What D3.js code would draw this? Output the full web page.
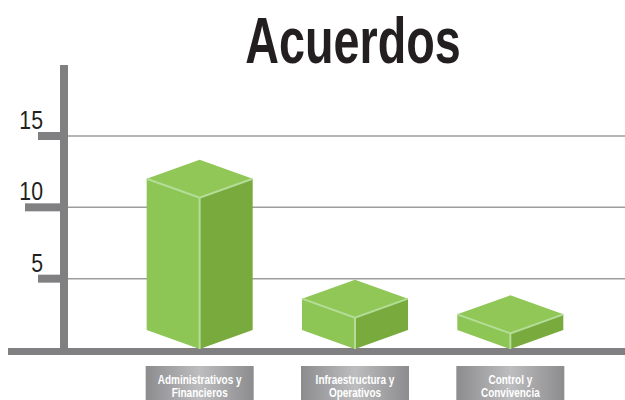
<!DOCTYPE html>
<html lang="es">
<head>
<meta charset="UTF-8">
<title>Acuerdos</title>
<script src="https://d3js.org/d3.v7.min.js"></script>
<style>
  body { margin: 0; background: #fff; }
  svg { display: block; font-family: "Liberation Sans Narrow", "Liberation Sans", Arial, sans-serif; }
</style>
</head>
<body>
<div id="chart"></div>
<script>
// data
var categories = ["Administrativos y|Financieros", "Infraestructura y|Operativos", "Control y|Convivencia"];
var values = [12, 3.6, 2.5];
var tickValues = [5, 10, 15];

var width = 625, height = 400;

var svg = d3.select("#chart").append("svg")
    .attr("width", width)
    .attr("height", height);

var y = d3.scaleLinear().domain([0, 15]).range([350, 136]);
var x = d3.scaleBand().domain(categories).range([122, 588]);

// gradient for the label boxes
var defs = svg.append("defs");
var grad = defs.append("linearGradient").attr("id", "lblGrad")
    .attr("x1", "0%").attr("x2", "100%").attr("y1", "0%").attr("y2", "0%");
grad.append("stop").attr("offset", "0%").attr("stop-color", "#8c8c8e");
grad.append("stop").attr("offset", "50%").attr("stop-color", "#bdbdbf");
grad.append("stop").attr("offset", "100%").attr("stop-color", "#8c8c8e");

// title (condensed by squeezing the glyphs)
svg.append("text")
    .attr("transform", "translate(353,63) scale(0.73,1)")
    .attr("text-anchor", "middle")
    .attr("font-size", 64)
    .attr("font-weight", "bold")
    .attr("fill", "#231f20")
    .text("Acuerdos");

// grid lines
svg.selectAll(".grid").data(tickValues).enter().append("line")
    .attr("class", "grid")
    .attr("x1", 67).attr("x2", width)
    .attr("y1", function(d) { return y(d); })
    .attr("y2", function(d) { return y(d); })
    .attr("stroke", "#9d9d9f")
    .attr("stroke-width", 1.5);

// tick marks (10 is longer)
svg.selectAll(".tick").data(tickValues).enter().append("rect")
    .attr("class", "tick")
    .attr("x", function(d) { return d === 10 ? 25 : 38; })
    .attr("y", function(d) { return y(d) - 4; })
    .attr("width", function(d) { return d === 10 ? 36 : 23; })
    .attr("height", 8)
    .attr("fill", "#808083");

svg.selectAll(".tlabel").data(tickValues).enter().append("text")
    .attr("class", "tlabel")
    .attr("transform", function(d) { return "translate(43," + (y(d) - 7) + ") scale(0.85,1)"; })
    .attr("text-anchor", "end")
    .attr("font-size", 25)
    .attr("fill", "#231f20")
    .text(function(d) { return d; });

// axis bars
svg.append("rect").attr("x", 60).attr("y", 65).attr("width", 8).attr("height", 290).attr("fill", "#808083");
svg.append("rect").attr("x", 8).attr("y", 348).attr("width", width - 8).attr("height", 7).attr("fill", "#808083");

// 3d boxes
var hw = 53, dz = 19;
var bars = svg.selectAll(".bar").data(values).enter().append("g").attr("class", "bar");

function cx(i) { return x(categories[i]) + x.bandwidth() / 2; }

bars.each(function(v, i) {
    var g = d3.select(this);
    var c = cx(i);
    var top = y(v);          // y of left/right top corners
    var base = 330;          // y of left/right bottom corners
    var fTop = top + dz, fBot = base + dz;
    // left face
    g.append("path")
        .attr("d", "M" + (c - hw) + "," + top + "L" + c + "," + fTop + "L" + c + "," + fBot + "L" + (c - hw) + "," + base + "Z")
        .attr("fill", "#8ec655");
    // right face
    g.append("path")
        .attr("d", "M" + c + "," + fTop + "L" + (c + hw) + "," + top + "L" + (c + hw) + "," + base + "L" + c + "," + fBot + "Z")
        .attr("fill", "#79aa3e");
    // top face
    g.append("path")
        .attr("d", "M" + (c - hw) + "," + top + "L" + c + "," + (top - dz) + "L" + (c + hw) + "," + top + "L" + c + "," + fTop + "Z")
        .attr("fill", "#90c757");
    // highlight edges
    g.append("path")
        .attr("d", "M" + (c - hw) + "," + top + "L" + c + "," + fTop + "L" + (c + hw) + "," + top + "M" + c + "," + fTop + "L" + c + "," + fBot)
        .attr("fill", "none")
        .attr("stroke", "#b4dd98")
        .attr("stroke-width", 2);
});

// category labels
var labels = svg.selectAll(".cat").data(categories).enter().append("g").attr("class", "cat")
    .attr("transform", function(d) { return "translate(" + (x(d) + x.bandwidth() / 2) + ",0)"; });

labels.append("rect")
    .attr("x", -54).attr("y", 366)
    .attr("width", 108).attr("height", 40)
    .attr("fill", "url(#lblGrad)");

labels.each(function(d) {
    var parts = d.split("|");
    var t = d3.select(this).append("text")
        .attr("transform", "scale(0.8,1)")
        .attr("text-anchor", "middle")
        .attr("font-size", 12.5)
        .attr("font-weight", "bold")
        .attr("fill", "#ffffff");
    parts.forEach(function(p, k) {
        t.append("tspan").attr("x", 0).attr("y", 384 + k * 13.5).text(p);
    });
});
</script>
</body>
</html>
